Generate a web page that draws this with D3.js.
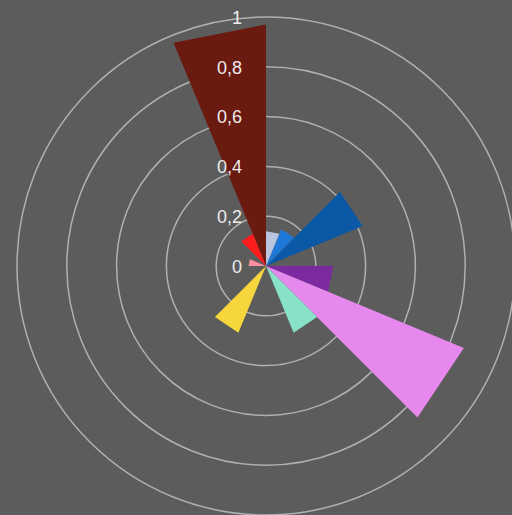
<!DOCTYPE html>
<html>
<head>
<meta charset="utf-8">
<script src="https://cdn.jsdelivr.net/npm/d3@7"></script>
<style>
html,body{margin:0;padding:0;background:#5c5c5c;}
svg{display:block;}
</style>
</head>
<body>
<svg id="chart" width="512" height="515"></svg>
<script>
// 16 radar spokes (22.5° apart), each series fills the triangle between two spokes
const spokes = d3.range(16);
const seriesNames = ["A","B","C","D","E","F","G","H","I","J"];
const startSpoke = [15, 2, 1, 0, 4, 5, 6, 9, 14, 12];
const values = [0.97, 0.42, 0.16, 0.14, 0.27, 0.86, 0.29, 0.29, 0.14, 0.07];
const colors = ["#6a1a0f","#0a58a6","#1f78d8","#b7c6de","#7b2aa0","#e688ee","#88e2c8","#f5d63c","#ff1c1c","#ff8fa0"];
const tickValues = [0, 0.2, 0.4, 0.6, 0.8, 1];

const cx = 266, cy = 266;
const svg = d3.select("#chart");
svg.append("rect").attr("width",512).attr("height",515).attr("fill","#5c5c5c");

const r = d3.scaleLinear().domain([0,1]).range([0,249]);
const angle = d3.scaleLinear().domain([0,16]).range([0, 2*Math.PI]);
const g = svg.append("g").attr("transform",`translate(${cx},${cy})`);

// grid circles
g.selectAll("circle.grid").data(tickValues.filter(d=>d>0)).enter()
  .append("circle").attr("class","grid")
  .attr("r", d=>r(d)).attr("fill","none")
  .attr("stroke","#b0b0b0").attr("stroke-width",1.5);

// wedges
const radial = d3.lineRadial().angle(d=>d[0]).radius(d=>d[1]).curve(d3.curveLinearClosed);
g.selectAll("path.wedge").data(seriesNames).enter()
  .append("path").attr("class","wedge")
  .attr("d",(d,i)=>{
    const a0 = angle(startSpoke[i]), a1 = angle(startSpoke[i]+1);
    return radial([[0,0],[a0,r(values[i])],[a1,r(values[i])]]);
  })
  .attr("fill",(d,i)=>colors[i]);

// tick labels
const fmt = d => d===0 ? "0" : d===1 ? "1" : String(d).replace(".",",");
g.selectAll("text.tick").data(tickValues).enter()
  .append("text").attr("class","tick")
  .attr("x",-24).attr("y",d=>-r(d)+2)
  .attr("text-anchor","end").attr("dominant-baseline","middle")
  .attr("font-family","Liberation Sans, Arial, sans-serif").attr("font-size",18)
  .attr("fill","#ececec")
  .text(fmt);
</script>
</body>
</html>
